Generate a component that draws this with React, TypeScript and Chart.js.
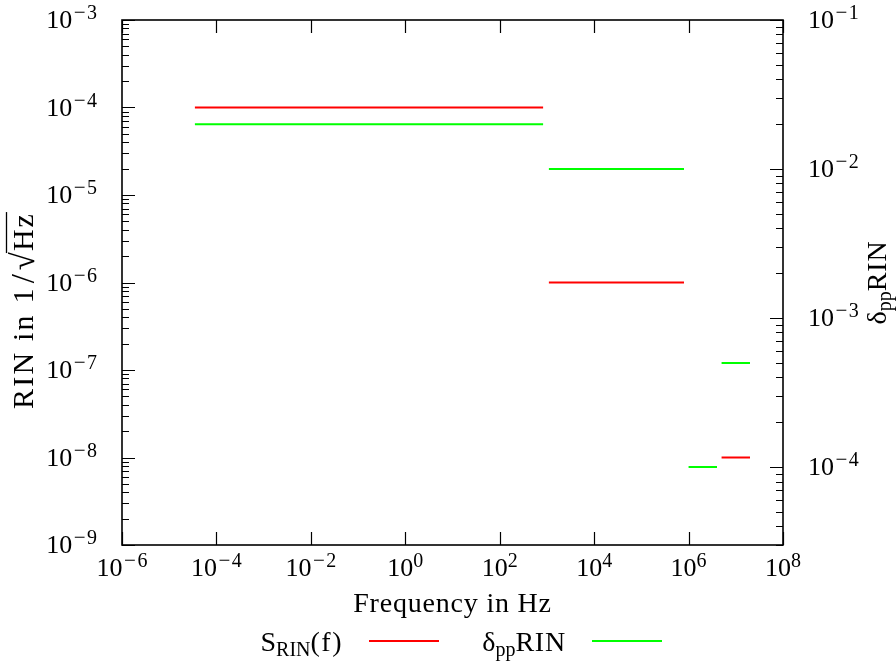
import React, { useEffect, useRef } from "react";
import { Chart, registerables } from "chart.js";

Chart.register(...registerables);

// ---- data ----
const segStart = [3.5e-5, 1.1e3, 1e6, 5e6];
const segEnd = [8.3e2, 8e5, 4e6, 2e7];
const sRinValues: (number | null)[] = [1e-4, 1e-6, null, 1e-8];
const deltaPPValues: (number | null)[] = [2e-2, 1e-2, 1e-4, 5e-4];

const xTickExps = [-6, -4, -2, 0, 2, 4, 6, 8];
const leftTickExps = [-9, -8, -7, -6, -5, -4, -3];
const rightTickExps = [-4, -3, -2, -1];

const FONT = '"Liberation Serif", "DejaVu Serif", serif';

function buildSegments(values: (number | null)[]) {
  const pts: { x: number; y: number | null }[] = [];
  values.forEach((v, i) => {
    if (v == null) return;
    pts.push({ x: segStart[i], y: v }, { x: segEnd[i], y: v }, { x: segEnd[i], y: null });
  });
  return pts;
}

type Part = { t: string; size: number; dy: number; pad?: number; ls?: number };

function partWidth(ctx: CanvasRenderingContext2D, p: Part) {
  ctx.font = `${p.size}px ${FONT}`;
  const ls = p.ls || 0;
  return ctx.measureText(p.t).width + (p.pad || 0) * 2 + ls * p.t.length;
}

function richWidth(ctx: CanvasRenderingContext2D, parts: Part[]) {
  let w = 0;
  for (const p of parts) w += partWidth(ctx, p);
  return w;
}

function drawRich(ctx: CanvasRenderingContext2D, parts: Part[], x: number, y: number, align: "left" | "center" | "right") {
  const w = richWidth(ctx, parts);
  let cx = align === "left" ? x : align === "center" ? x - w / 2 : x - w;
  ctx.textAlign = "left";
  ctx.textBaseline = "alphabetic";
  for (const p of parts) {
    const pw = partWidth(ctx, p);
    ctx.font = `${p.size}px ${FONT}`;
    const ls = p.ls || 0;
    if (ls) {
      let lx = cx + (p.pad || 0);
      for (const ch of p.t) {
        ctx.fillText(ch, lx, y + p.dy);
        lx += ctx.measureText(ch).width + ls;
      }
    } else {
      ctx.fillText(p.t, cx + (p.pad || 0), y + p.dy);
    }
    cx += pw;
  }
  return w;
}

function powParts(e: number): Part[] {
  const parts: Part[] = [{ t: "10", size: 26, dy: 0 }];
  if (e < 0) {
    parts.push({ t: "\u2212", size: 21, dy: -9, pad: 1.5 });
    parts.push({ t: String(-e), size: 20, dy: -9 });
  } else {
    parts.push({ t: String(e), size: 20, dy: -9 });
  }
  return parts;
}

const framePlugin = {
  id: "gnuFrame",
  afterDatasetsDraw(chart: any) {
    const ctx: CanvasRenderingContext2D = chart.ctx;
    const { left, right, top, bottom } = chart.chartArea;
    const xs = chart.scales.x;
    const ys = chart.scales.y;
    const y2 = chart.scales.y2;
    ctx.save();
    ctx.fillStyle = "#000";
    ctx.strokeStyle = "#000";

    // ticks
    ctx.lineWidth = 1.2;
    ctx.beginPath();
    for (const e of xTickExps) {
      const px = Math.round(xs.getPixelForValue(Math.pow(10, e))) + 0.5;
      ctx.moveTo(px, bottom);
      ctx.lineTo(px, bottom - 13);
      ctx.moveTo(px, top);
      ctx.lineTo(px, top + 13);
    }
    const minY = ys.min, maxY = ys.max;
    for (const e of leftTickExps) {
      for (let k = 1; k <= 9; k++) {
        const v = k * Math.pow(10, e);
        if (v < minY * 0.999 || v > maxY * 1.001) continue;
        const py = Math.round(ys.getPixelForValue(v)) + 0.5;
        ctx.moveTo(left, py);
        ctx.lineTo(left + (k === 1 ? 13 : 7), py);
      }
    }
    const minY2 = y2.min, maxY2 = y2.max;
    for (let e = -5; e <= -1; e++) {
      for (let k = 1; k <= 9; k++) {
        const v = k * Math.pow(10, e);
        if (v < minY2 * 0.999 || v > maxY2 * 1.001) continue;
        const py = Math.round(y2.getPixelForValue(v)) + 0.5;
        ctx.moveTo(right, py);
        ctx.lineTo(right - (k === 1 ? 13 : 7), py);
      }
    }
    ctx.stroke();

    // frame
    ctx.lineWidth = 1.6;
    ctx.strokeRect(left, top, right - left, bottom - top);

    // tick labels
    for (const e of xTickExps) {
      const px = xs.getPixelForValue(Math.pow(10, e));
      drawRich(ctx, powParts(e), px, bottom + 31, "center");
    }
    for (const e of leftTickExps) {
      const py = ys.getPixelForValue(Math.pow(10, e));
      drawRich(ctx, powParts(e), left - 25, py + 8, "right");
    }
    for (const e of rightTickExps) {
      const py = y2.getPixelForValue(Math.pow(10, e));
      drawRich(ctx, powParts(e), right + 25, py + 8, "left");
    }

    // x title
    const cxp = (left + right) / 2;
    drawRich(ctx, [{ t: "Frequency in Hz", size: 28, dy: 0, ls: 0.8 }], cxp, bottom + 67, "center");

    // left y title (rotated) : RIN in 1/sqrt(Hz)
    ctx.save();
    ctx.translate(33, (top + bottom) / 2 + 28);
    ctx.rotate(-Math.PI / 2);
    const p1: Part[] = [{ t: "RIN in 1", size: 30, dy: 0, ls: 2.2 }, { t: "/", size: 33, dy: 1, pad: 3 }];
    const pSq: Part[] = [{ t: "\u221A", size: 33, dy: 1, pad: 1 }];
    const pHz: Part[] = [{ t: "Hz", size: 30, dy: 0, ls: 2 }];
    const w1 = richWidth(ctx, p1), wSq = richWidth(ctx, pSq), wHz = richWidth(ctx, pHz);
    const total = w1 + wSq + wHz;
    let sx = -total / 2;
    drawRich(ctx, p1, sx, 0, "left");
    sx += w1;
    drawRich(ctx, pSq, sx, 0, "left");
    sx += wSq;
    drawRich(ctx, pHz, sx, 0, "left");
    ctx.lineWidth = 1.3;
    ctx.beginPath();
    ctx.moveTo(sx - 2, -26.5);
    ctx.lineTo(sx + wHz, -26.5);
    ctx.stroke();
    ctx.restore();

    // right y title
    ctx.save();
    ctx.translate(886, (top + bottom) / 2);
    ctx.rotate(-Math.PI / 2);
    drawRich(
      ctx,
      [
        { t: "\u03B4", size: 28, dy: 0 },
        { t: "pp", size: 20, dy: 5 },
        { t: "RIN", size: 28, dy: 0, ls: 0.8 },
      ],
      0,
      0,
      "center"
    );
    ctx.restore();

    // legend
    const legendY = bottom + 96;
    const entries = [
      {
        parts: [
          { t: "S", size: 28, dy: 0 },
          { t: "RIN", size: 20, dy: 5 },
          { t: "(f)", size: 28, dy: 0, ls: 1.5 },
        ] as Part[],
        color: "#ff0000",
        sample: cxp - 83.5,
      },
      {
        parts: [
          { t: "\u03B4", size: 28, dy: 0 },
          { t: "pp", size: 20, dy: 5 },
          { t: "RIN", size: 28, dy: 0, ls: 0.8 },
        ] as Part[],
        color: "#00ff00",
        sample: cxp + 139.5,
      },
    ];
    ctx.fillStyle = "#000";
    for (const en of entries) {
      drawRich(ctx, en.parts, en.sample - 26, legendY + 10, "right");
      ctx.strokeStyle = en.color;
      ctx.lineWidth = 2;
      ctx.beginPath();
      ctx.moveTo(en.sample, legendY);
      ctx.lineTo(en.sample + 70, legendY);
      ctx.stroke();
    }
    ctx.restore();
  },
};

export default function App() {
  const ref = useRef<HTMLCanvasElement | null>(null);
  useEffect(() => {
    if (!ref.current) return;
    const chart = new Chart(ref.current, {
      type: "line",
      data: {
        datasets: [
          {
            label: "S_RIN(f)",
            data: buildSegments(sRinValues) as any,
            borderColor: "#ff0000",
            backgroundColor: "#ff0000",
            borderWidth: 2,
            pointRadius: 0,
            spanGaps: false,
            yAxisID: "y",
          },
          {
            label: "δppRIN",
            data: buildSegments(deltaPPValues) as any,
            borderColor: "#00ff00",
            backgroundColor: "#00ff00",
            borderWidth: 2,
            pointRadius: 0,
            spanGaps: false,
            yAxisID: "y2",
          },
        ],
      },
      options: {
        animation: false,
        responsive: true,
        maintainAspectRatio: false,
        parsing: true,
        layout: { padding: { left: 122, top: 20, right: 113, bottom: 121 } },
        plugins: { legend: { display: false }, tooltip: { enabled: false } },
        scales: {
          x: { type: "logarithmic", min: 1e-6, max: 1e8, display: false },
          y: { type: "logarithmic", position: "left", min: 1e-9, max: 1e-3, display: false },
          y2: { type: "logarithmic", position: "right", min: 3e-5, max: 1e-1, display: false },
        },
      },
      plugins: [framePlugin],
    });
    return () => chart.destroy();
  }, []);
  return (
    <div style={{ position: "fixed", left: 0, top: 0, width: 896, height: 666, background: "#fff" }}>
      <canvas ref={ref} />
    </div>
  );
}
